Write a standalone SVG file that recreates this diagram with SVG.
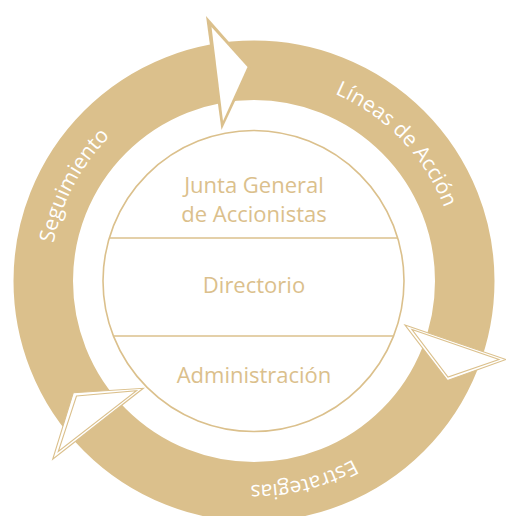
<svg xmlns="http://www.w3.org/2000/svg" width="506" height="516" viewBox="0 0 506 516">
  <style>
    .ring { fill: none; stroke: #DBC08C; stroke-width: 59.5; }
    .inner { fill: #FFFFFF; stroke: #DBC08C; stroke-width: 1.6; }
    .div { stroke: #DBC08C; stroke-width: 1.6; }
    .lbl { font-family: "Open Sans", "Noto Sans", sans-serif; font-size: 22px; fill: #DBC08C; text-anchor: middle; }
    .rlbl { font-family: "Open Sans", "Noto Sans", sans-serif; font-size: 21px; fill: #FFFFFF; text-anchor: middle; }
    .dbl { fill: #FFFFFF; stroke: #DBC08C; stroke-width: 1.1; stroke-linejoin: miter; stroke-miterlimit: 20; }
    .dbl2 { fill: none; stroke: #DBC08C; stroke-width: 1.1; stroke-linejoin: miter; stroke-miterlimit: 20; }
  </style>
  <defs>
    <path id="ringPath" d="M 254,77 A 204,204 0 1,1 254,485 A 204,204 0 1,1 254,77"/>
  </defs>
  <rect width="506" height="516" fill="#FFFFFF"/>

  <g id="connectors">
    <circle class="ring" cx="254" cy="281" r="210.75"/>
    <g id="arrow-top">
      <polygon points="206,16 251,67 221.5,130" fill="#DBC08C"/>
      <polygon points="211.5,27 247.5,67 223,121" fill="#FFFFFF"/>
    </g>
    <g id="arrow-right">
      <polygon class="dbl" points="405,325 506,359.5 447.5,380.5"/>
      <polygon class="dbl2" points="412,329.5 499,359.5 448,377"/>
    </g>
    <g id="arrow-left">
      <polygon class="dbl" points="73.3,392.7 143.3,388.3 52.7,459.3"/>
      <polygon class="dbl2" points="76.5,396 136.5,390.7 58.3,451.5"/>
    </g>
  </g>

  <g id="ring-labels">
    <text class="rlbl"><textPath href="#ringPath" startOffset="12.83%">Líneas de Acción</textPath></text>
    <text class="rlbl"><textPath href="#ringPath" startOffset="46.1%">Estrategias</textPath></text>
    <text class="rlbl"><textPath href="#ringPath" startOffset="82.75%">Seguimiento</textPath></text>
  </g>

  <g id="org">
    <circle class="inner" cx="253.5" cy="281" r="150.5"/>
    <line class="div" x1="109.3" y1="238" x2="397.7" y2="238"/>
    <line class="div" x1="113.4" y1="336" x2="393.6" y2="336"/>
  </g>
  <g id="junta">
    <text class="lbl" x="254" y="193">Junta General</text>
    <text class="lbl" x="254" y="222">de Accionistas</text>
  </g>
  <g id="directorio">
    <text class="lbl" x="254" y="293">Directorio</text>
  </g>
  <g id="administracion">
    <text class="lbl" x="254" y="383">Administración</text>
  </g>
</svg>
